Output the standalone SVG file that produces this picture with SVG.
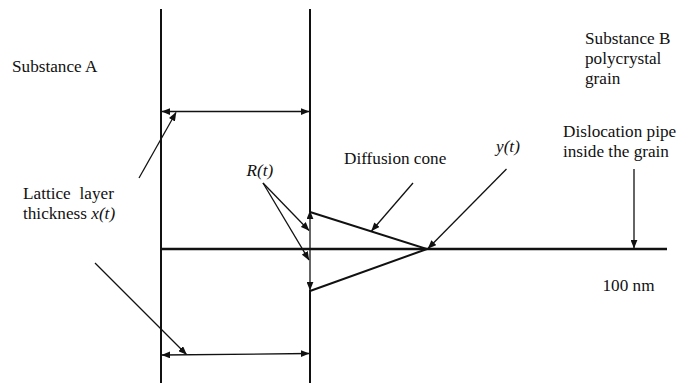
<svg xmlns="http://www.w3.org/2000/svg" width="680" height="383" viewBox="0 0 680 383">
<defs>
<style>
.t{font-family:'Liberation Serif','Times New Roman',serif;font-size:17.2px;fill:#111}
.it{font-style:italic}
.main{stroke:#111;stroke-width:2;fill:none}
.base{stroke:#111;stroke-width:2.6;fill:none}
.arr{stroke:#111;stroke-width:1.3;fill:none;marker-end:url(#ah)}
.dbl{stroke:#111;stroke-width:1.3;fill:none;marker-start:url(#ah);marker-end:url(#ah)}
</style>
<marker id="ah" viewBox="0 0 10 8" refX="9.5" refY="4" markerWidth="9" markerHeight="7" markerUnits="userSpaceOnUse" orient="auto-start-reverse">
<path d="M0,0 L10,4 L0,8 z" fill="#111"/>
</marker>
</defs>
<rect width="680" height="383" fill="#fff"/>
<g id="layer-boundaries">
<line class="main" x1="161" y1="9" x2="161" y2="383"/>
<line class="main" x1="310" y1="9" x2="310" y2="212"/>
<line class="main" x1="310" y1="290" x2="310" y2="383"/>
</g>
<g id="dislocation-pipe">
<line class="base" x1="161" y1="249" x2="667" y2="249"/>
</g>
<g id="diffusion-cone">
<polyline class="main" points="310,212 427,249 310,291"/>
</g>
<g id="label-substance-a">
<text class="t" x="12" y="72">Substance A</text>
</g>
<g id="label-substance-b">
<text class="t" x="585" y="44">Substance B</text>
<text class="t" x="585" y="64">polycrystal</text>
<text class="t" x="585" y="84">grain</text>
</g>
<g id="label-lattice">
<text class="t" x="23" y="199">Lattice<tspan x="79.5">layer</tspan></text>
<text class="t" x="23" y="218.5">thickness <tspan class="it">x(t)</tspan></text>
</g>
<g id="label-rt">
<text class="t it" x="246.5" y="176">R(t)</text>
</g>
<g id="label-cone">
<text class="t" x="344" y="164">Diffusion cone</text>
</g>
<g id="label-yt">
<text class="t it" x="496" y="152">y(t)</text>
</g>
<g id="label-pipe">
<text class="t" x="563" y="137">Dislocation pipe</text>
<text class="t" x="563" y="157">inside the grain</text>
</g>
<g id="label-scale">
<text class="t" x="602.5" y="291">100 nm</text>
</g>
<g id="connectors">
<line class="dbl" x1="162" y1="111.5" x2="309" y2="111.5"/>
<line class="dbl" x1="162" y1="355" x2="309" y2="353.5"/>
<line class="dbl" x1="310" y1="211" x2="310" y2="290"/>
<line class="arr" x1="139" y1="178" x2="176" y2="112.5"/>
<line class="arr" x1="95" y1="263" x2="186.5" y2="354.5"/>
<line class="arr" x1="263" y1="183" x2="309" y2="230.5"/>
<line class="arr" x1="263" y1="183" x2="309" y2="260"/>
<line class="arr" x1="413" y1="183" x2="371.5" y2="231"/>
<line class="arr" x1="506.5" y1="169" x2="428" y2="248.5"/>
<line class="arr" x1="634" y1="169" x2="634" y2="248"/>
</g>
</svg>
